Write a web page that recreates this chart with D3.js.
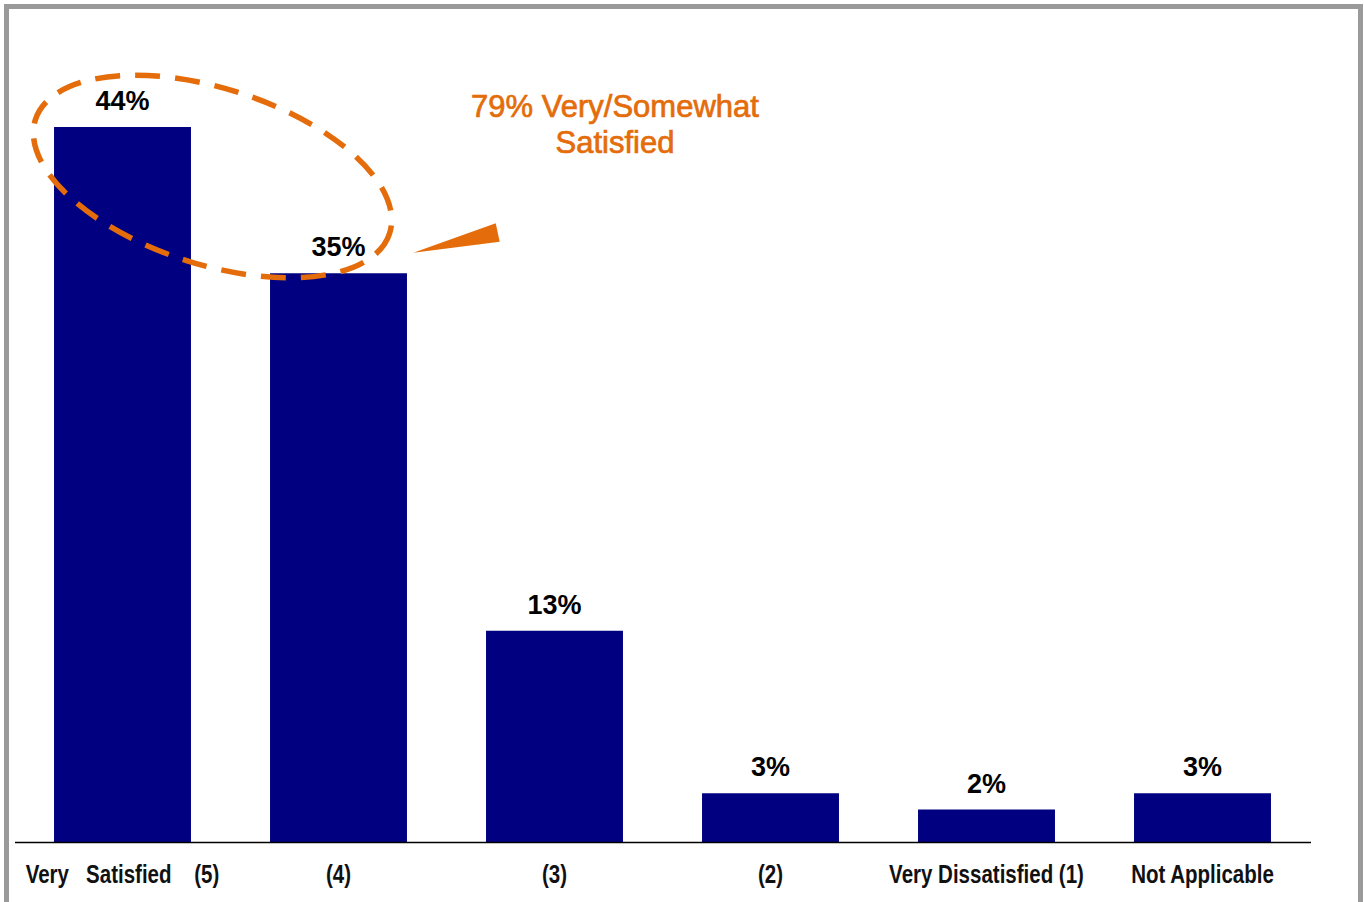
<!DOCTYPE html>
<html>
<head>
<meta charset="utf-8">
<script src="https://cdn.jsdelivr.net/npm/d3@7"></script>
<style>
  html, body { margin: 0; padding: 0; background: #fff; }
  svg { display: block; }
</style>
</head>
<body>
<script>
// Satisfaction ratings, share of respondents (%)
const categories = ["Very   Satisfied    (5)", "(4)", "(3)", "(2)", "Very Dissatisfied (1)", "Not Applicable"];
const values = [44, 35, 13, 3, 2, 3];
const valueLabels = ["44%", "35%", "13%", "3%", "2%", "3%"];
const calloutLines = ["79% Very/Somewhat", "Satisfied"];

const W = 1364, H = 902;
const svg = d3.select("body").append("svg").attr("width", W).attr("height", H);

// Frame
svg.append("rect")
  .attr("x", 6.5).attr("y", 6.5)
  .attr("width", 1354).attr("height", 1000)
  .attr("fill", "#fff")
  .attr("stroke", "#9a9a9a")
  .attr("stroke-width", 5);

const x = d3.scaleBand()
  .domain(categories)
  .range([14.5, 1310.5])
  .paddingInner(0.366)
  .paddingOuter(0.183);

const y = d3.scaleLinear()
  .domain([0, 50])
  .range([842, 29.5]);

// Bars
svg.append("g").selectAll("rect")
  .data(values)
  .join("rect")
  .attr("x", (d, i) => x(categories[i]))
  .attr("y", d => y(d))
  .attr("width", x.bandwidth())
  .attr("height", d => y(0) - y(d))
  .attr("fill", "#000080");

// Value labels
svg.append("g").selectAll("text")
  .data(values)
  .join("text")
  .attr("x", (d, i) => x(categories[i]) + x.bandwidth() / 2)
  .attr("y", d => y(d) - 17)
  .attr("text-anchor", "middle")
  .attr("font-family", "'Liberation Sans', Arial, sans-serif")
  .attr("font-weight", "bold")
  .attr("font-size", 27)
  .attr("fill", "#000")
  .text((d, i) => valueLabels[i]);

// Category axis (narrow lettering: bold sans squeezed horizontally)
const axis = d3.axisBottom(x).tickSize(0).tickPadding(0);
const gx = svg.append("g").attr("transform", `translate(0,${y(0)})`).call(axis);
gx.select(".domain").attr("stroke", "#000").attr("stroke-width", 1.3);
gx.selectAll(".tick text")
  .attr("dy", null)
  .attr("y", 0)
  .attr("transform", "translate(0,41) scale(0.82,1)")
  .attr("font-family", "'Liberation Sans', Arial, sans-serif")
  .attr("font-weight", "bold")
  .attr("font-size", 25)
  .attr("fill", "#111")
  .style("white-space", "pre");

// Highlight ring around the top two ratings
const orange = "#E46C0A";
svg.append("ellipse")
  .attr("cx", 0).attr("cy", 0)
  .attr("rx", 186).attr("ry", 88)
  .attr("transform", "translate(212.5,176.5) rotate(17.8)")
  .attr("fill", "none")
  .attr("stroke", orange)
  .attr("stroke-width", 5.5)
  .attr("stroke-dasharray", "25 15");

// Callout pointer
svg.append("polygon")
  .attr("points", "413.3,252.7 495.7,223.3 499.7,241.7")
  .attr("fill", orange);

// Callout text
svg.append("text")
  .attr("x", 615)
  .attr("y", 117)
  .attr("text-anchor", "middle")
  .attr("font-family", "'Liberation Sans', Arial, sans-serif")
  .attr("font-size", 31)
  .attr("fill", orange)
  .attr("stroke", orange)
  .attr("stroke-width", 0.7)
  .selectAll("tspan")
  .data(calloutLines)
  .join("tspan")
  .attr("x", 615)
  .attr("dy", (d, i) => i === 0 ? 0 : 36)
  .text(d => d);
</script>
</body>
</html>
